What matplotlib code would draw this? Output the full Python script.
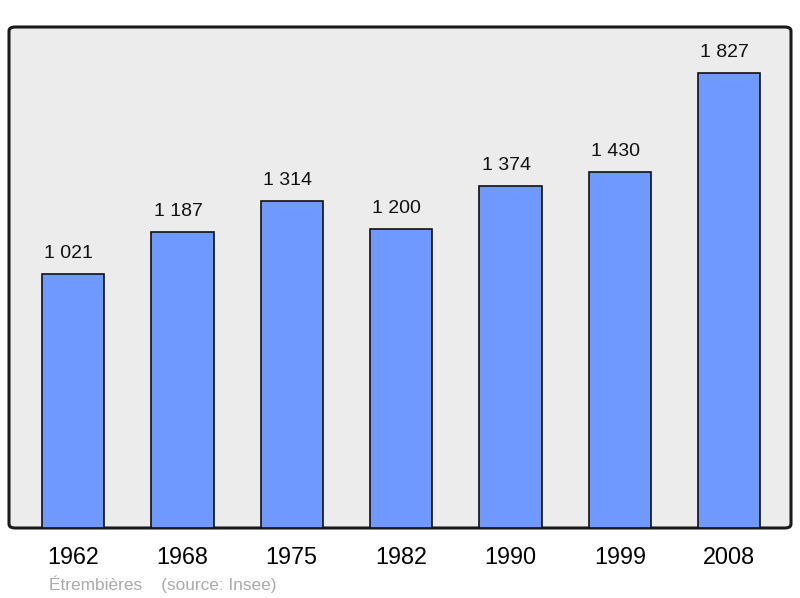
import matplotlib.pyplot as plt
from matplotlib.patches import FancyBboxPatch

years = ["1962", "1968", "1975", "1982", "1990", "1999", "2008"]
population = [1021, 1187, 1314, 1200, 1374, 1430, 1827]
labels = ["1 021", "1 187", "1 314", "1 200", "1 374", "1 430", "1 827"]

plt.rcParams['font.family'] = ['Liberation Sans', 'DejaVu Sans']

fig = plt.figure(figsize=(8, 5.98), dpi=100)
ax = fig.add_axes([9 / 800, 1 - 528 / 598, 782 / 800, 501 / 598])
ax.set_facecolor('none')
for s in ax.spines.values():
    s.set_visible(False)

frame = FancyBboxPatch((0, 0), 1, 1, boxstyle="round,pad=0,rounding_size=0.008",
                       transform=ax.transAxes, facecolor='#ececec',
                       edgecolor='#1a1a1a', linewidth=2.2, zorder=0, clip_on=False)
ax.add_patch(frame)

x = range(len(years))
ax.bar(x, population, width=0.57, color='#7099ff', edgecolor='#111111',
       linewidth=1.2, zorder=2)
for i, (v, t) in enumerate(zip(population, labels)):
    ax.text(i - 0.04, v + 48, t, ha='center', va='bottom', fontsize=14, color='#111111')

ax.set_xlim(-0.585, 6.565)
ax.set_ylim(0, 2012)
ax.set_yticks([])
ax.set_xticks(list(x))
ax.set_xticklabels(years, fontsize=16.8)
ax.tick_params(axis='x', length=0, pad=13)

fig.text(49 / 800, 1 - 584 / 598, "Étrembières    (source: Insee)", fontsize=12.4,
         color='#aaaaaa', va='center', ha='left')

fig.savefig("out.png", dpi=100)
